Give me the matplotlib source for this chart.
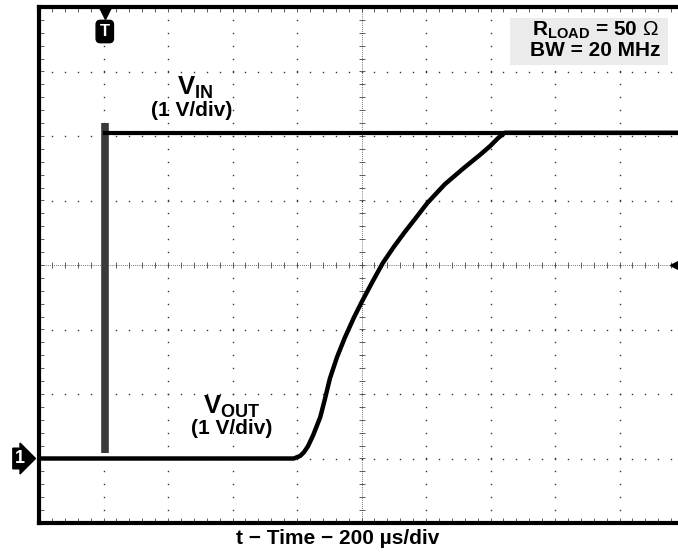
import numpy as np
import matplotlib
matplotlib.use("Agg")
from matplotlib import pyplot as plt
from matplotlib.patches import Rectangle

plt.rcParams['font.family'] = ['Liberation Sans', 'DejaVu Sans']
plt.rcParams['mathtext.fontset'] = 'custom'
plt.rcParams['mathtext.rm'] = 'Liberation Sans'
plt.rcParams['mathtext.bf'] = 'Liberation Sans:bold'

# scope screen in divisions: 10 horizontal (200 us/div), 8 vertical (1 V/div)
vin_t = [1.02, 10.0]
vin_v = [2.05, 2.05]
vin_step_t = [1.02, 1.02]
vin_step_v = [-2.92, 2.2]

vout_t = [0.0, 3.95, 4.05, 4.11, 4.17, 4.25, 4.36, 4.43, 4.51, 4.62, 4.74, 4.88,
          5.01, 5.17, 5.33, 5.50, 5.67, 5.85, 6.02, 6.29, 6.57, 6.84, 6.99, 7.12,
          7.22, 10.0]
vout_v = [-3.0, -3.0, -2.96, -2.9, -2.81, -2.64, -2.36, -2.09, -1.76, -1.43, -1.13, -0.82,
          -0.56, -0.26, 0.03, 0.28, 0.51, 0.74, 0.96, 1.25, 1.49, 1.71, 1.84, 1.97,
          2.05, 2.05]

fig = plt.figure(figsize=(6.78, 5.56), dpi=100)
ax = fig.add_axes([39 / 678, 33 / 556, 645 / 678, 516 / 556])
ax.set_xlim(0, 10)
ax.set_ylim(-4, 4)
ax.set_xticks([])
ax.set_yticks([])
for s in ax.spines.values():
    s.set_linewidth(3)
    s.set_color('black')

# graticule: dotted division lines
minor_x = np.arange(0, 10.01, 0.2)
minor_y = np.arange(-4, 4.01, 0.2)
for gx in range(1, 10):
    if gx == 5:
        continue
    ax.plot(np.full_like(minor_y, gx), minor_y, ls='none', marker='s',
            ms=1.0, mew=0, color='#333333')
for gy in range(-3, 4):
    if gy == 0:
        continue
    ax.plot(minor_x, np.full_like(minor_x, gy), ls='none', marker='s',
            ms=1.0, mew=0, color='#333333')
# centre crosshair with minor ticks
ax.plot([0, 10], [0, 0], ls=(0, (1, 1.5)), lw=0.6, color='#444444')
ax.plot([5, 5], [-4, 4], ls=(0, (1, 1.5)), lw=0.6, color='#444444')
ax.plot(minor_x, np.zeros_like(minor_x), ls='none', marker='|', ms=5, mew=0.6, color='#444444')
ax.plot(np.full_like(minor_y, 5), minor_y, ls='none', marker='_', ms=5, mew=0.6, color='#444444')
# edge ticks
ax.plot(minor_x, np.full_like(minor_x, -4), ls='none', marker='|', ms=7, mew=0.6, color='#444444')
ax.plot(minor_x, np.full_like(minor_x, 4), ls='none', marker='|', ms=7, mew=0.6, color='#444444')
ax.plot(np.zeros_like(minor_y), minor_y, ls='none', marker='_', ms=7, mew=0.6, color='#444444')

# traces
ax.plot(vin_step_t, vin_step_v, color='#3a3a3a', lw=5.5, solid_capstyle='butt')
ax.plot(vin_t, vin_v, color='black', lw=3)
ax.plot(vout_t, vout_v, color='black', lw=3.2, solid_joinstyle='round')

# scope markers
ax.plot([1.02], [3.9], marker='v', ms=9, color='black', clip_on=False)
ax.text(1.02, 3.62, 'T', ha='center', va='center', color='white', fontsize=12,
        fontweight='bold', bbox=dict(boxstyle='round,pad=0.22,rounding_size=0.25',
                                     fc='black', ec='black'))
ax.text(-0.3, -3.0, '1', ha='center', va='center', color='white', fontsize=13,
        fontweight='bold', bbox=dict(boxstyle='rarrow,pad=0.1', fc='black', ec='black'),
        clip_on=False)
ax.plot([9.88], [0.0], marker='<', ms=8, color='black', clip_on=False)

# labels
ax.text(2.42, 2.74, r'$\mathbf{V_{IN}}$', ha='center', va='center', fontsize=18.5)
ax.text(2.36, 2.39, '(1 V/div)', ha='center', va='center', fontsize=15, fontweight='bold')
ax.text(2.99, -2.2, r'$\mathbf{V_{OUT}}$', ha='center', va='center', fontsize=18.5)
ax.text(2.99, -2.54, '(1 V/div)', ha='center', va='center', fontsize=15, fontweight='bold')

ax.add_patch(Rectangle((7.30, 3.10), 2.45, 0.73, fc='#ebebeb', ec='none', zorder=3))
ax.text(8.62, 3.64, r'$\mathbf{R_{LOAD}}$ = 50 $\Omega$', ha='center', va='center',
        fontsize=15, fontweight='bold', zorder=4)
ax.text(8.62, 3.33, 'BW = 20 MHz', ha='center', va='center', fontsize=15,
        fontweight='bold', zorder=4)

fig.text(338 / 678, 1 - 538 / 556, 't \u2212 Time \u2212 200 \u00b5s/div', ha='center',
         va='center', fontsize=15, fontweight='bold')

fig.savefig('out.png', dpi=100)
